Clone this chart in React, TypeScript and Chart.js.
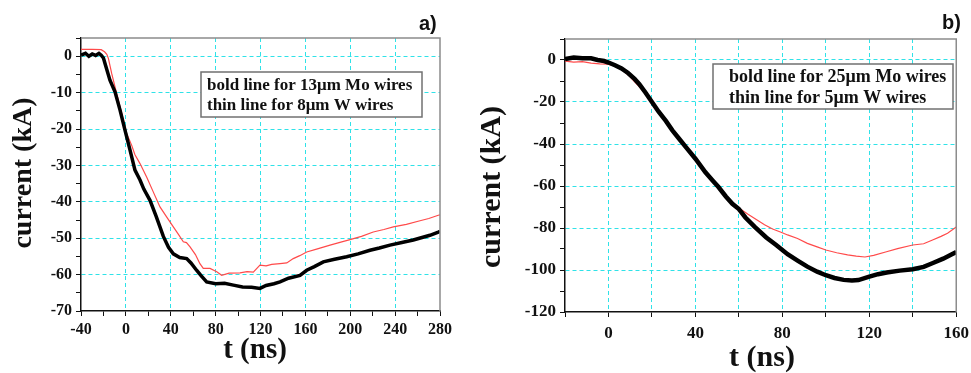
import React, { useEffect, useRef } from 'react';
import { Chart, registerables } from 'chart.js';

Chart.register(...registerables);

// ---------- data ----------
// panel a) bold line: 13 μm Mo wires
const timeA_bold = [-40, -36, -33, -30, -27, -24, -22, -20, -18.6, -14.2, -9.7, -5.2, -0.8, 3.7, 8.1, 12.6, 16, 21.5, 27, 33.4, 38, 42.3, 48, 54.2, 58, 63, 67, 72, 80, 88, 95.8, 104, 112, 119.5, 125, 132, 137.4, 145, 155.2, 161.2, 168, 176, 186, 196.8, 207, 217.6, 226, 235.4, 246, 256.2, 264, 271, 278.5, 280];
const currentA_bold = [0.3, 0.8, 0, 0.6, 0.2, 0.8, 0.3, -0.5, -2, -6.6, -9.8, -14.8, -20.3, -25.8, -31.3, -34, -36.5, -39.6, -44, -49.5, -52.5, -54.3, -55.3, -55.6, -56.8, -58.8, -60.3, -62, -62.5, -62.4, -62.9, -63.4, -63.5, -63.8, -63, -62.5, -62, -61, -60.2, -58.8, -57.8, -56.5, -55.8, -55.1, -54.3, -53.3, -52.7, -51.9, -51.2, -50.5, -49.8, -49.2, -48.3, -48.1];
// panel a) thin line: 8 μm W wires
const timeA_thin = [-40, -30, -22, -19, -17, -15.6, -12.6, -8.2, -3.7, 0.7, 5.2, 8, 12.6, 18.5, 24, 30.4, 36, 42.3, 47, 51.2, 54, 57.2, 62, 66, 69, 75, 81, 85.4, 92, 101.7, 108, 113.6, 119.5, 125, 130, 137.4, 143.4, 149.2, 155, 161.2, 170, 182, 190, 199.8, 210, 220.5, 230, 238.4, 250, 262.2, 270, 278.5, 280];
const currentA_thin = [1.9, 1.9, 1.8, 1.2, 0.5, -0.6, -4.8, -10.3, -15.7, -21.2, -24.5, -27, -29.5, -33.2, -37, -41.4, -44, -46.9, -49, -51, -51.2, -52.4, -54.5, -57, -58.3, -58.3, -59.2, -60.2, -59.6, -59.5, -59.2, -59.3, -57.4, -57.6, -57.2, -57, -56.8, -55.6, -54.8, -53.8, -53, -51.9, -51.2, -50.4, -49.5, -48.3, -47.6, -46.9, -46.2, -45.2, -44.6, -43.7, -43.6];

// panel b) bold line: 25 μm Mo wires
const timeB_bold = [-20, -16, -12, -8, -5, -2, 0, 3, 6, 9, 12, 14.2, 17, 20, 23, 26.4, 29.4, 32.5, 36, 40, 44.6, 48, 50.6, 54, 57, 60, 63, 67.3, 72.6, 77, 82.4, 87, 91.5, 96, 100, 104, 108.2, 112, 115, 120, 124, 128, 134, 140, 145, 149, 154, 158, 160];
const currentB_bold = [0.5, 1.2, 0.8, 0.8, 0, -0.5, -1.2, -2.5, -4, -6.2, -9, -11.5, -15.5, -20, -24.5, -29, -33.5, -37.5, -42, -47, -53.5, -57.5, -60.5, -65, -68.5, -71, -75, -79.5, -84.5, -88, -92.5, -95.5, -98.4, -100.8, -102.5, -103.8, -104.7, -105, -104.8, -103.2, -102, -101.2, -100.3, -99.6, -98.5, -96.8, -94.6, -92.5, -91.5];
// panel b) thin line: 5 μm W wires
const timeB_thin = [-20, -16, -12, -8, -4, 0, 3, 6, 9, 11.2, 14, 17.3, 20, 23.4, 26.5, 29.4, 32.5, 35.5, 38.6, 41.6, 44.6, 47.7, 50.7, 53.7, 57, 60, 64.2, 68, 71.8, 75.5, 79.4, 82.4, 87, 91.5, 96, 100, 105, 110, 114, 118, 122, 127.9, 133, 140, 145, 149.1, 153, 156, 160];
const currentB_thin = [-0.5, -1, -0.8, -1.5, -1.8, -2, -3, -4.5, -7, -9.5, -12.5, -16.5, -20.5, -25, -29.5, -33.5, -38, -41.5, -45, -49, -53, -57, -61, -64.5, -68, -70.5, -73.5, -76, -78.5, -80.5, -82, -83.3, -85, -87.3, -89, -90.5, -91.8, -92.8, -93.4, -93.8, -93, -91.3, -89.8, -88.1, -87.5, -85.7, -84, -82.5, -79.5];

// axis ranges / tick steps
const axisA = { xMin: -40, xMax: 280, xStep: 20, xMajor: 40, xGrid: 40, yMin: -70, yMax: 5, yStep: 5, yMajor: 10, yGrid: 10 };
const axisB = { xMin: -20, xMax: 160, xStep: 20, xMajor: 40, xGrid: 20, yMin: -120, yMax: 10, yStep: 10, yMajor: 20, yGrid: 20 };

// texts
const legendA = ['bold line for 13μm Mo wires', 'thin line for 8μm W wires'];
const legendB = ['bold line for 25μm Mo wires', 'thin line for 5μm W wires'];
const yTitleText = 'current (kA)';
const xTitleText = 't (ns)';

// ---------- styling ----------
const SERIF = '"Liberation Serif", "Times New Roman", serif';
const SANS = '"Liberation Sans", Arial, sans-serif';
const GRID = '#2fe2e8';
const RED = '#ff4a4a';
const INK = '#111111';

const pairs = (xs: number[], ys: number[]) => xs.map((x, i) => ({ x, y: ys[i] }));
const isMult = (v: number, m: number) => Math.abs(v / m - Math.round(v / m)) < 1e-9;

const decorPlugin = {
  id: 'decor',
  afterDraw(chart: any, _args: any, o: any) {
    const { ctx, chartArea: ca } = chart;
    ctx.save();
    // top / right frame (grey)
    ctx.strokeStyle = '#8c8c8c';
    ctx.lineWidth = 1.5;
    ctx.beginPath();
    ctx.moveTo(ca.left, ca.top);
    ctx.lineTo(ca.right, ca.top);
    ctx.lineTo(ca.right, ca.bottom);
    ctx.stroke();

    // legend box
    const b = o.box;
    ctx.fillStyle = '#ffffff';
    ctx.fillRect(b.x, b.y, b.w, b.h);
    ctx.strokeStyle = '#707070';
    ctx.lineWidth = 1.5;
    ctx.strokeRect(b.x, b.y, b.w, b.h);
    ctx.fillStyle = INK;
    ctx.font = `bold ${o.textSize}px ${SERIF}`;
    ctx.textAlign = 'left';
    ctx.textBaseline = 'alphabetic';
    o.lines.forEach((t: string, i: number) => ctx.fillText(t, o.textX, o.baselines[i]));

    // panel label
    ctx.font = `bold 20px ${SANS}`;
    ctx.fillText(o.label, o.labelX, o.labelY);

    // x title
    ctx.font = `bold ${o.xTitle.size}px ${SERIF}`;
    ctx.textAlign = 'center';
    ctx.textBaseline = 'middle';
    ctx.fillText(xTitleText, o.xTitle.x, o.xTitle.y);

    // y title
    ctx.font = `bold ${o.yTitle.size}px ${SERIF}`;
    ctx.translate(o.yTitle.x, o.yTitle.y);
    ctx.rotate(-Math.PI / 2);
    ctx.fillText(yTitleText, 0, 0);
    ctx.restore();
  },
};

function buildConfig(p: any) {
  const ax = p.axis;
  const tickFont = { family: SERIF, size: p.tickSize, weight: 'bold' as const };
  const gridColor = (major: number, min: number, max: number) => (c: any) => {
    const v = c.tick ? c.tick.value : NaN;
    return isMult(v, major) && v > min + 1e-9 && v < max - 1e-9 ? GRID : 'rgba(0,0,0,0)';
  };
  return {
    type: 'line' as const,
    data: {
      datasets: [
        {
          label: p.boldLabel,
          data: pairs(p.boldT, p.boldV),
          borderColor: '#000000',
          borderWidth: p.boldWidth,
          pointRadius: 0,
          tension: 0,
          fill: false,
          order: 0,
        },
        {
          label: p.thinLabel,
          data: pairs(p.thinT, p.thinV),
          borderColor: RED,
          borderWidth: 1.2,
          pointRadius: 0,
          tension: 0,
          fill: false,
          order: 1,
        },
      ],
    },
    options: {
      responsive: false,
      animation: false as const,
      events: [],
      layout: { padding: p.padding },
      plugins: {
        legend: { display: false },
        tooltip: { enabled: false },
        decor: p.decor,
      },
      scales: {
        x: {
          type: 'linear' as const,
          min: ax.xMin,
          max: ax.xMax,
          afterFit: (s: any) => { s.height = p.xAxisHeight; },
          ticks: {
            stepSize: ax.xStep,
            autoSkip: false,
            maxRotation: 0,
            padding: p.xTickPad,
            color: INK,
            font: tickFont,
            callback: (v: number) => (isMult(v, ax.xMajor) ? String(v) : ''),
          },
          grid: {
            color: gridColor(ax.xGrid, ax.xMin, ax.xMax),
            lineWidth: 1,
            tickColor: INK,
            tickLength: 5,
            tickWidth: 1,
          },
          border: { display: true, color: INK, width: 1.5, dash: [4, 3] },
        },
        y: {
          type: 'linear' as const,
          min: ax.yMin,
          max: ax.yMax,
          afterFit: (s: any) => { s.width = p.yAxisWidth; },
          ticks: {
            stepSize: ax.yStep,
            autoSkip: false,
            padding: 4,
            color: INK,
            font: tickFont,
            callback: (v: number) => (isMult(v, ax.yMajor) ? String(v) : ''),
          },
          grid: {
            color: gridColor(ax.yGrid, ax.yMin, ax.yMax),
            lineWidth: 1,
            tickColor: INK,
            tickLength: 5,
            tickWidth: 1,
          },
          border: { display: true, color: INK, width: 1.5, dash: [4, 3] },
        },
      },
    },
    plugins: [decorPlugin],
  };
}

const makeA = () =>
  buildConfig({
    axis: axisA,
    boldLabel: legendA[0],
    thinLabel: legendA[1],
    boldT: timeA_bold,
    boldV: currentA_bold,
    thinT: timeA_thin,
    thinV: currentA_thin,
    boldWidth: 3.5,
    tickSize: 16,
    xTickPad: 4,
    xAxisHeight: 62,
    yAxisWidth: 81,
    padding: { left: 0, right: 40, top: 38, bottom: 0 },
    decor: {
      label: 'a)',
      labelX: 419,
      labelY: 30,
      box: { x: 201, y: 72, w: 221, h: 45 },
      textX: 207,
      baselines: [90, 110],
      textSize: 17,
      lines: legendA,
      xTitle: { x: 255, y: 351, size: 29 },
      yTitle: { x: 24, y: 173, size: 28 },
    },
  });

const makeB = () =>
  buildConfig({
    axis: axisB,
    boldLabel: legendB[0],
    thinLabel: legendB[1],
    boldT: timeB_bold,
    boldV: currentB_bold,
    thinT: timeB_thin,
    thinV: currentB_thin,
    boldWidth: 4.5,
    tickSize: 17,
    xTickPad: 6,
    xAxisHeight: 61,
    yAxisWidth: 85,
    padding: { left: 0, right: 15, top: 39, bottom: 0 },
    decor: {
      label: 'b)',
      labelX: 462,
      labelY: 29,
      box: { x: 233, y: 64, w: 240, h: 45 },
      textX: 249,
      baselines: [82, 103],
      textSize: 18,
      lines: legendB,
      xTitle: { x: 282, y: 358, size: 30 },
      yTitle: { x: 12, y: 187, size: 30 },
    },
  });

function Panel({ make, left, width }: { make: () => any; left: number; width: number }) {
  const ref = useRef<HTMLCanvasElement | null>(null);
  useEffect(() => {
    if (!ref.current) return;
    const chart = new Chart(ref.current, make());
    return () => chart.destroy();
  }, [make]);
  return (
    <canvas
      ref={ref}
      width={width}
      height={373}
      style={{ position: 'absolute', left, top: 0, width, height: 373 }}
    />
  );
}

export default function App() {
  return (
    <div
      style={{
        position: 'absolute',
        left: 0,
        top: 0,
        width: 971,
        height: 373,
        overflow: 'hidden',
        background: '#ffffff',
      }}
    >
      <Panel make={makeA} left={0} width={480} />
      <Panel make={makeB} left={480} width={495} />
    </div>
  );
}
